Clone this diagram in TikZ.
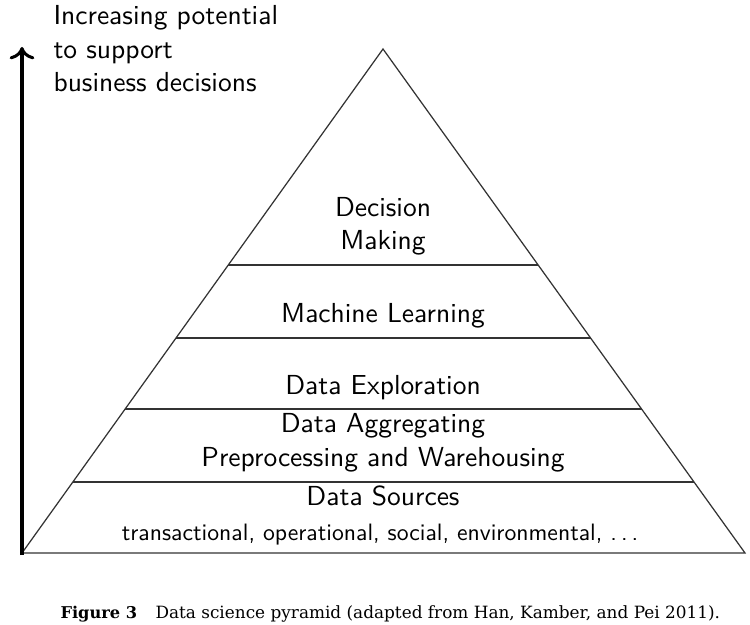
\documentclass[tikz,border=0pt]{standalone}
\usepackage{fontspec}
\newfontfamily\capfont{DejaVu Serif}
\newfontfamily\smallsans{lmsans10-regular.otf}
\usetikzlibrary{arrows.meta,calc}
\begin{document}
\begin{tikzpicture}[x=0.3636pt,y=-0.3636pt,
  edge/.style={line width=0.45pt,draw=black!80},
  lbl/.style={font=\sffamily\fontsize{10}{12.36}\selectfont,inner sep=0pt,align=center,anchor=base},
  small/.style={font=\smallsans\fontsize{8.62}{10.5}\selectfont,inner sep=0pt,anchor=base},
  capstyle/.style={font=\capfont\fontsize{6.14}{8}\selectfont,inner sep=0pt,anchor=base west},
  axis/.style={line width=1.1pt,-{Computer Modern Rightarrow[length=4.5pt,width=9pt]}}]
\useasboundingbox (0,0) rectangle (750,625);
% pyramid
\coordinate (A) at (22,553);
\coordinate (B) at (745,553);
\coordinate (C) at (383,49);
\draw[edge] (A) -- (B) -- (C) -- cycle;
\foreach \t [count=\i] in {0.1409,0.2857,0.4266,0.5714}{
  \coordinate (L\i) at ($(A)!\t!(C)$);
  \coordinate (R\i) at ($(B)!\t!(C)$);
  \draw[edge] (L\i) -- (R\i);
}
% arrow
\coordinate (abot) at (22,555);
\coordinate (atop) at (22,47);
\draw[axis] (abot) -- (atop);
\node[lbl,align=left,anchor=base west] (head) at (53,92) {Increasing potential\\to support\\business decisions};
% labels
\node[lbl] (dm) at (383,250) {Decision\\Making};
\node[lbl] (ml) at (383,322) {Machine Learning};
\node[lbl] (de) at (383,394) {Data Exploration};
\node[lbl] (da) at (383,466) {Data Aggregating\\Preprocessing and Warehousing};
\node[lbl] (ds) at (383,505) {Data Sources};
\node[small] (dsx) at (380,540) {transactional, operational, social, environmental, .\kern0.17em.\kern0.17em.};
% caption
\node[capstyle,font=\capfont\fontsize{5.9}{8}\selectfont] (fig) at (60,618) {\textbf{Figure 3}};
\node[capstyle] (cap) at (155,618) {Data science pyramid (adapted from Han, Kamber, and Pei 2011).};
\end{tikzpicture}
\end{document}
